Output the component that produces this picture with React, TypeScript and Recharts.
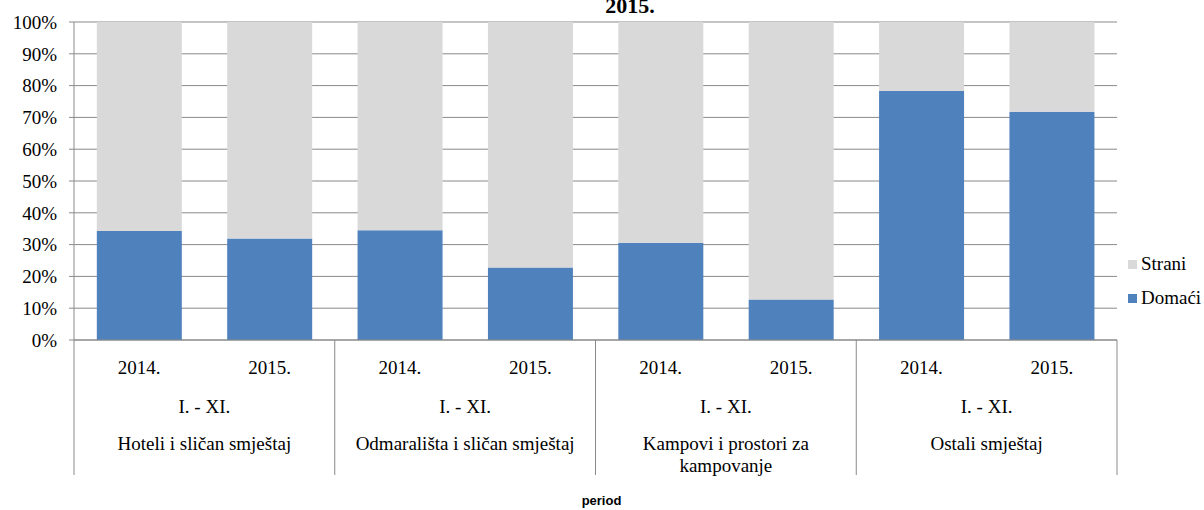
import { Bar, BarChart, CartesianGrid, XAxis, YAxis } from 'recharts';

const YEARS = ['2014.', '2015.', '2014.', '2015.', '2014.', '2015.', '2014.', '2015.'];
// group names, already broken into the lines they take under the axis
const GROUPS = [
  ['Hoteli i sličan smještaj'],
  ['Odmarališta i sličan smještaj'],
  ['Kampovi i prostori za', 'kampovanje'],
  ['Ostali smještaj'],
];
const PERIOD = 'I. - XI.';
const DOMACI = [34.3, 31.9, 34.5, 22.8, 30.6, 12.7, 78.3, 71.8];
const STRANI = [65.7, 68.1, 65.5, 77.2, 69.4, 87.3, 21.7, 28.2];
const Y_TICKS = [0, 10, 20, 30, 40, 50, 60, 70, 80, 90, 100];

const W = 1204;
const H = 510;
const Y_AXIS_W = 74;
const RIGHT = 87;
const X_AXIS_H = 170;
const BAND = (W - Y_AXIS_W - RIGHT) / YEARS.length;

const SERIF = '"Liberation Serif", "Times New Roman", serif';
const LINE = '#898989';
const BLUE = '#4f81bd';
const GREY = '#d9d9d9';

const rows = YEARS.map((year, i) => ({
  key: `${i}`,
  year,
  group: GROUPS[Math.floor(i / 2)],
  domaci: DOMACI[i],
  strani: STRANI[i],
}));

const legendItems = [
  { name: 'Strani', color: GREY },
  { name: 'Domaći', color: BLUE },
];

function CategoryTick({ x, y, index }: { x: number; y: number; index: number }) {
  const row = rows[index];
  const groupStart = index % 2 === 0;
  const isLast = index === rows.length - 1;
  const groupCenter = x + BAND / 2;
  return (
    <g fontFamily={SERIF} fontSize={19} fill="#000">
      <text x={x} y={y + 27} textAnchor="middle" dominantBaseline="central">
        {row.year}
      </text>
      {groupStart && (
        <>
          <text x={groupCenter} y={y + 66} textAnchor="middle" dominantBaseline="central">
            {PERIOD}
          </text>
          <text textAnchor="middle" dominantBaseline="central">
            {row.group.map((line, li) => (
              <tspan key={li} x={groupCenter} y={y + 103 + li * 22}>
                {line}
              </tspan>
            ))}
          </text>
          <line x1={x - BAND / 2} y1={y} x2={x - BAND / 2} y2={y + 135} stroke={LINE} />
        </>
      )}
      {isLast && <line x1={x + BAND / 2} y1={y} x2={x + BAND / 2} y2={y + 135} stroke={LINE} />}
    </g>
  );
}

function LegendBox() {
  return (
    <div
      style={{
        position: 'absolute',
        left: 1128,
        top: 247,
        fontFamily: SERIF,
        fontSize: 19,
        color: '#000',
      }}
    >
      {legendItems.map((item) => (
        <div key={item.name} style={{ display: 'flex', alignItems: 'center', height: 34 }}>
          <span
            style={{ width: 9, height: 9, background: item.color, display: 'inline-block', marginRight: 4 }}
          />
          <span>{item.name}</span>
        </div>
      ))}
    </div>
  );
}

export default function App() {
  return (
    <div style={{ position: 'absolute', left: 0, top: 0, width: W, height: H, background: '#fff' }}>
      <BarChart
        width={W}
        height={H}
        data={rows}
        margin={{ top: 22, right: RIGHT, bottom: 0, left: 0 }}
        barCategoryGap="17.5%"
      >
        <CartesianGrid vertical={false} stroke={LINE} strokeWidth={1} />
        <XAxis
          dataKey="key"
          height={X_AXIS_H}
          axisLine={{ stroke: LINE }}
          tickLine={false}
          tickSize={0}
          tickMargin={0}
          interval={0}
          tick={(p: any) => <CategoryTick x={p.x} y={p.y} index={p.index} />}
          label={{
            value: 'period',
            position: 'insideBottom',
            offset: 5,
            dx: 6,
            fill: '#000',
            fontFamily: '"Liberation Sans", Arial, sans-serif',
            fontWeight: 700,
            fontSize: 13,
          }}
        />
        <YAxis
          width={Y_AXIS_W}
          domain={[0, 100]}
          ticks={Y_TICKS}
          interval={0}
          tickFormatter={(v: number) => `${v}%`}
          axisLine={{ stroke: LINE }}
          tickLine={{ stroke: LINE }}
          tickSize={5}
          tickMargin={12}
          tick={{ fill: '#000', fontFamily: SERIF, fontSize: 19 }}
        />
        <Bar dataKey="domaci" name="Domaći" stackId="a" fill={BLUE} isAnimationActive={false} />
        <Bar dataKey="strani" name="Strani" stackId="a" fill={GREY} isAnimationActive={false} />
      </BarChart>
      <LegendBox />
      <svg
        width={W}
        height={H}
        style={{ position: 'absolute', left: 0, top: 0, pointerEvents: 'none' }}
      >
        <text
          x={630}
          y={13}
          textAnchor="middle"
          fontFamily={SERIF}
          fontWeight={700}
          fontSize={22}
          fill="#000"
        >
          2015.
        </text>
      </svg>
    </div>
  );
}
